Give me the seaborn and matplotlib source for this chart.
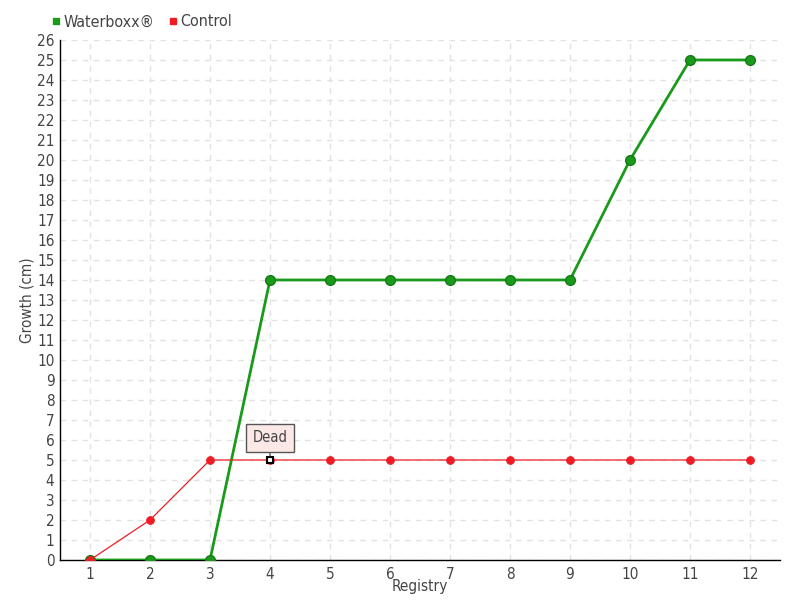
import matplotlib
matplotlib.use("Agg")
import matplotlib.pyplot as plt
import seaborn as sns
import pandas as pd
from matplotlib.lines import Line2D

registry = [1, 2, 3, 4, 5, 6, 7, 8, 9, 10, 11, 12]
waterboxx = [0, 0, 0, 14, 14, 14, 14, 14, 14, 20, 25, 25]
control = [0, 2, 5, 5, 5, 5, 5, 5, 5, 5, 5, 5]
y_ticks = list(range(0, 27))

sns.set_theme(style="white")
plt.rcParams['font.family'] = ['DejaVu Sans']
plt.rcParams['font.stretch'] = 'condensed'

df = pd.DataFrame({"Registry": registry * 2,
                   "Growth": waterboxx + control,
                   "Series": ["Waterboxx®"] * 12 + ["Control"] * 12})

fig = plt.figure(figsize=(8, 6), dpi=100)
ax = fig.add_axes([0.075, 0.0667, 0.9, 0.8667])

green = "#1a9a1a"
red = "#ee1c25"

wb = df[df.Series == "Waterboxx®"]
ct = df[df.Series == "Control"]
sns.lineplot(data=wb, x="Registry", y="Growth", ax=ax, color=green, linewidth=2,
             marker="o", markersize=7, markeredgecolor="#157a15", markeredgewidth=1,
             zorder=3, legend=False)
sns.lineplot(data=ct, x="Registry", y="Growth", ax=ax, color=red, linewidth=0.9,
             marker="o", markersize=5.5, markeredgecolor=red, zorder=4, legend=False)
# Dead marker
ax.plot([registry[3]], [control[3]], marker="s", markersize=5, markerfacecolor="white",
        markeredgecolor="black", markeredgewidth=1.5, zorder=6, linestyle="none")
ax.annotate("Dead", xy=(registry[3], control[3]), xytext=(0, 16), textcoords="offset points",
            ha="center", va="center", fontsize=10.5, color="#444444",
            bbox=dict(boxstyle="square,pad=0.45", fc="#fde8e8", ec="#555555", lw=1),
            arrowprops=dict(arrowstyle="-", color="#555555", lw=1, shrinkA=0, shrinkB=3), zorder=7)

ax.set_xlim(0.5, 12.5)
ax.set_ylim(0, 26)
ax.set_xticks(registry)
ax.set_yticks(y_ticks)
ax.grid(True, color="#e2e2e2", linestyle=(0, (4, 4)), linewidth=1)
for s in ["top", "right"]:
    ax.spines[s].set_visible(False)
for s in ["left", "bottom"]:
    ax.spines[s].set_color("black")
    ax.spines[s].set_linewidth(1)
ax.tick_params(axis="both", direction="inout", length=6, width=1, colors="black",
               labelcolor="#444444", labelsize=11, pad=2)
ax.tick_params(axis="y", pad=1)
ax.set_xlabel("Registry", fontsize=11, color="#444444", labelpad=-2)
ax.set_ylabel("Growth (cm)", fontsize=11, color="#444444", labelpad=2)

handles = [Line2D([], [], marker="s", color=green, linestyle="none", markersize=5),
           Line2D([], [], marker="s", color=red, linestyle="none", markersize=5)]
fig.legend(handles, ["Waterboxx®", "Control"], loc="upper left", bbox_to_anchor=(0.044, 1.0),
           ncol=2, frameon=False, fontsize=11.5, handletextpad=0.1, columnspacing=0.7,
           labelcolor="#444444", handlelength=0.8)

fig.savefig("out.png", dpi=100)
